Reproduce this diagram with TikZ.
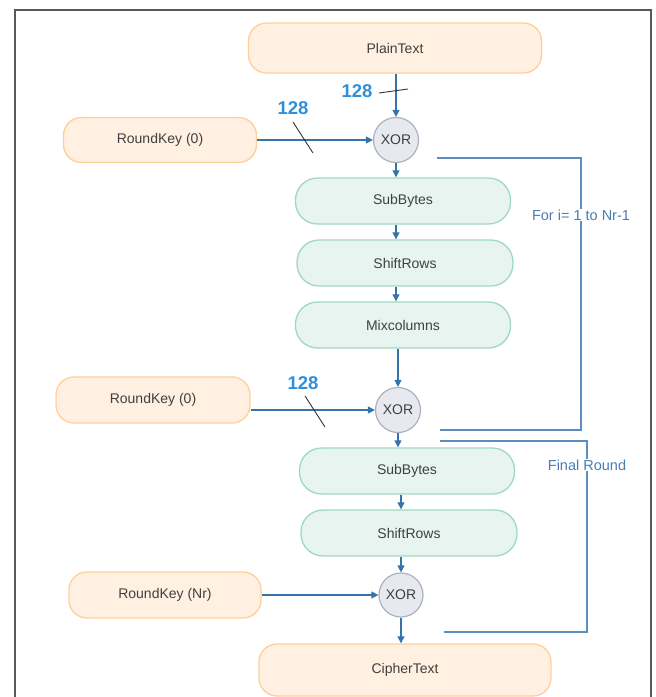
\documentclass[tikz,border=0pt]{standalone}
\usepackage{fontspec}
\setmainfont{Liberation Sans}
\usetikzlibrary{arrows.meta}
\definecolor{peach}{HTML}{FFF0E1}
\definecolor{peachline}{HTML}{FFCF99}
\definecolor{mint}{HTML}{E7F4EF}
\definecolor{mintline}{HTML}{9ED9C1}
\definecolor{xorfill}{HTML}{E7E9EF}
\definecolor{xorline}{HTML}{A9B1C2}
\definecolor{flow}{HTML}{3573AC}
\definecolor{loopline}{HTML}{5B8DBE}
\definecolor{looptext}{HTML}{4A7DB5}
\definecolor{bits}{HTML}{2E90DB}
\definecolor{ink}{HTML}{404040}
\colorlet{frame}{black!65}

\begin{document}
\begin{tikzpicture}[x=1pt,y=-1pt,font=\fontsize{14}{16}\selectfont,
    iobox/.style={draw=peachline,fill=peach,line width=1.3pt,rounded corners=18pt,
      text=ink,minimum height=50pt,inner sep=0pt},
    stepbox/.style={draw=mintline,fill=mint,line width=1.3pt,rounded corners=22pt,
      text=ink,minimum width=215pt,minimum height=46pt,inner sep=0pt},
    xorop/.style={circle,draw=xorline,fill=xorfill,line width=1.2pt,text=ink,
      minimum size=45pt,inner sep=0pt},
    feed/.style={draw=flow,line width=1.2pt,-{Triangle[length=7pt,width=7pt]}},
    loopside/.style={draw=loopline,line width=1.4pt},
    looptag/.style={fill=white,text=looptext,inner sep=1pt,font=\fontsize{14.5}{16}\selectfont},
    bitwidth/.style={text=bits,font=\fontsize{18.5}{20}\selectfont\bfseries},
    slash/.style={draw=black!80,line width=0.9pt}]
    \useasboundingbox (0,0) rectangle (656,697);
    % frame of the page, open at the bottom
    \draw[frame,line width=1.2pt] (15,697) -- (15,10) -- (651,10) -- (651,697);

    % nodes
    \node[iobox,minimum width=293pt] (plain) at (395,48) {PlainText};
    \node[xorop] (xa) at (396,140) {XOR};
    \node[iobox,minimum width=193pt,minimum height=45pt] (ka) at (160,140) {RoundKey (0)};
    \node[stepbox] (sba) at (403,201) {SubBytes};
    \node[stepbox,minimum width=216pt] (sra) at (405,263) {ShiftRows};
    \node[stepbox] (mix) at (403,325) {Mixcolumns};
    \node[xorop] (xb) at (398,410) {XOR};
    \node[iobox,minimum width=194pt,minimum height=46pt] (kb) at (153,400) {RoundKey (0)};
    \node[stepbox] (sbb) at (407,471) {SubBytes};
    \node[stepbox,minimum width=216pt] (srb) at (409,533) {ShiftRows};
    \node[xorop,minimum size=44pt] (xc) at (401,595) {XOR};
    \node[iobox,minimum width=192pt,minimum height=46pt] (kc) at (165,595) {RoundKey (Nr)};
    \node[iobox,minimum width=292pt,minimum height=52pt] (cipher) at (405,670) {CipherText};

    % data path
    \draw[feed] (plain.south -| xa) -- (xa);
    \draw[feed] (ka.east) -- (xa);
    \draw[feed] (xa) -- (sba.north -| xa);
    \draw[feed] (sba.south -| xa) -- (sra.north -| xa);
    \draw[feed] (sra.south -| xa) -- (mix.north -| xa);
    \draw[feed] (mix.south -| xb) -- (xb);
    \draw[feed] ([yshift=-10pt]kb.east) -- (xb);
    \draw[feed] (xb) -- (sbb.north -| xb);
    \draw[feed] (sbb.south -| xc) -- (srb.north -| xc);
    \draw[feed] (srb.south -| xc) -- (xc);
    \draw[feed] (kc.east) -- (xc);
    \draw[feed] (xc) -- (cipher.north -| xc);

    % bus width marks
    \draw[slash] (379,93) -- (408,89);
    \node[bitwidth] (wa) at (357,91) {128};
    \draw[slash] (293,122) -- (313,153);
    \node[bitwidth] (wb) at (293,108) {128};
    \draw[slash] (305,396) -- (325,427);
    \node[bitwidth] (wc) at (303,383) {128};

    % round brackets
    \coordinate (la) at (437,158);
    \coordinate (lb) at (440,430);
    \draw[loopside] (la) -- (581,158) -- (581,430) -- (lb);
    \node[looptag] (fora) at (581,215) {For i= 1 to Nr-1};
    \coordinate (lc) at (440,441);
    \coordinate (ld) at (444,632);
    \draw[loopside] (lc) -- (587,441) -- (587,632) -- (ld);
    \node[looptag] (last) at (587,465) {Final Round};
  \end{tikzpicture}
\end{document}
